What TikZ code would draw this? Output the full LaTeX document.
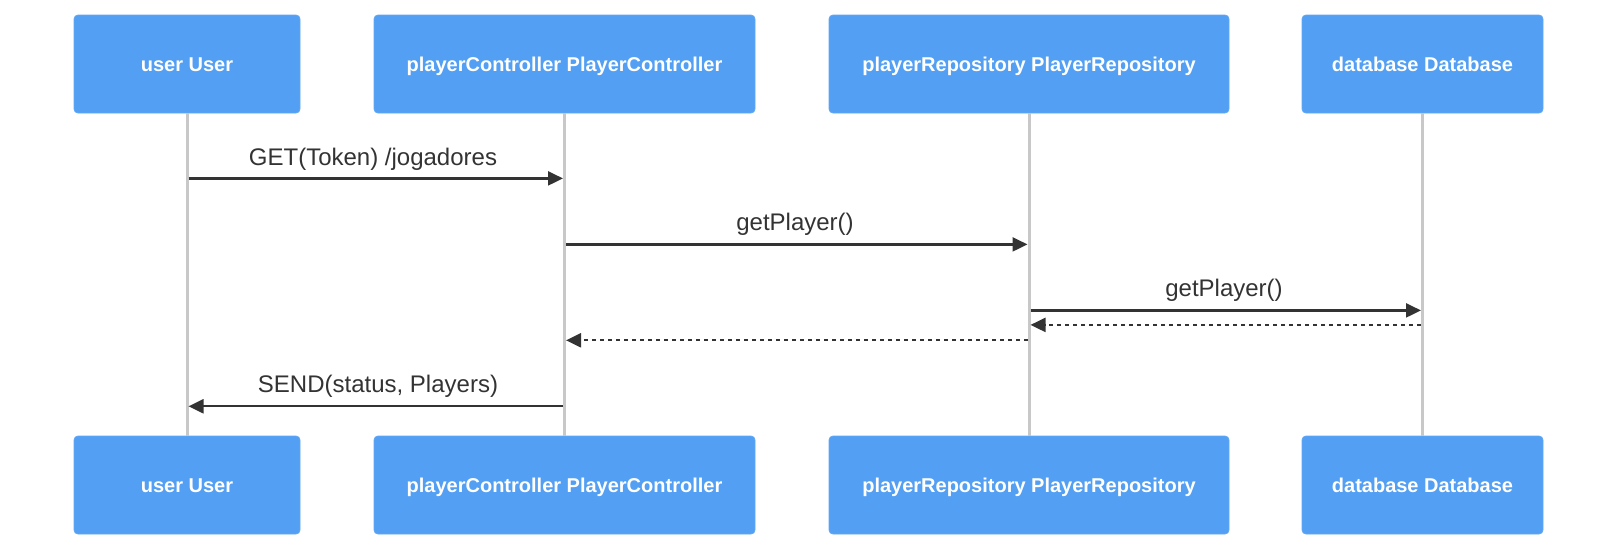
\documentclass[tikz,border=0pt]{standalone}
\usepackage{fontspec}
\setmainfont{Liberation Sans}
\usetikzlibrary{arrows.meta}
\definecolor{boxblue}{HTML}{529FF3}
\definecolor{boxedge}{HTML}{62A8F4}
\definecolor{lifegray}{HTML}{C8C8C8}
\definecolor{msgcol}{HTML}{333333}
\tikzset{
  actor/.style={draw=boxedge, fill=boxblue, rounded corners=4pt, line width=0.8pt,
    minimum height=98pt, inner sep=0pt, text=white, text height=14.4pt, text depth=0pt,
    font=\fontsize{20}{24}\selectfont\bfseries},
  life/.style={draw=lifegray, line width=3pt},
  msg/.style={draw=msgcol, line width=2.2pt, -{Triangle[length=15pt,width=14pt]}},
  reply/.style={msg, dash pattern=on 4pt off 4pt},
  msglabel/.style={text=msgcol, font=\fontsize{24}{28}\selectfont, inner sep=0pt}
}
\begin{document}
\begin{tikzpicture}[x=1pt,y=-1pt]
\useasboundingbox (0,0) rectangle (1617,550);
% top actors
\node[actor, minimum width=226pt] (ut) at (187,64) {user User};
\node[actor, minimum width=381pt] (ct) at (564.5,64) {playerController PlayerController};
\node[actor, minimum width=400pt] (rt) at (1029,64) {playerRepository PlayerRepository};
\node[actor, minimum width=241pt] (dt) at (1422.5,64) {database Database};
% bottom actors
\node[actor, minimum width=226pt] (ub) at (187,485) {user User};
\node[actor, minimum width=381pt] (cb) at (564.5,485) {playerController PlayerController};
\node[actor, minimum width=400pt] (rb) at (1029,485) {playerRepository PlayerRepository};
\node[actor, minimum width=241pt] (db) at (1422.5,485) {database Database};
% lifelines
\draw[life] (ut.south) -- (ub.north);
\draw[life] (ct.south) -- (cb.north);
\draw[life] (rt.south) -- (rb.north);
\draw[life] (dt.south) -- (db.north);
% message anchor points
\coordinate (u1) at (188.5,178.4);
\coordinate (c1) at (563,178.4);
\coordinate (c2) at (566,244.4);
\coordinate (r2) at (1027.5,244.4);
\coordinate (r3) at (1030.5,310.4);
\coordinate (d3) at (1421,310.4);
\coordinate (d4) at (1421,324.9);
\coordinate (r4) at (1030.5,324.9);
\coordinate (r5) at (1027.5,340.3);
\coordinate (c5) at (566,340.3);
\coordinate (c6) at (563,406.3);
\coordinate (u6) at (188.5,406.3);
% messages
\draw[msg] (u1) -- (c1);
\node[msglabel] (l1) at (373,158.8) {GET(Token) /jogadores};
\draw[msg] (c2) -- (r2);
\node[msglabel] (l2) at (795,224.7) {getPlayer()};
\draw[msg] (r3) -- (d3);
\node[msglabel] (l3) at (1224,290.7) {getPlayer()};
\draw[reply] (d4) -- (r4);
\draw[reply] (r5) -- (c5);
\draw[msg] (c6) -- (u6);
\node[msglabel] (l6) at (378,386.6) {SEND(status, Players)};
\end{tikzpicture}
\end{document}
